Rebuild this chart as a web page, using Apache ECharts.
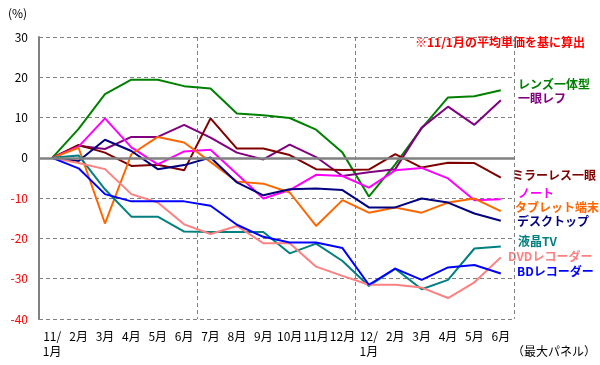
<!DOCTYPE html>
<html><head><meta charset="utf-8">
<script src="https://cdn.jsdelivr.net/npm/echarts@6/dist/echarts.min.js"></script>
<style>html,body{margin:0;padding:0;background:#fff}#c{width:600px;height:365px}</style>
</head><body><div id="c"></div>
<script>
var categories = ['11/\n1月','2月','3月','4月','5月','6月','7月','8月','9月','10月','11月','12月','12/\n1月','2月','3月','4月','5月','6月'];
var seriesNames = ['レンズ一体型','一眼レフ','ミラーレス一眼','ノート','タブレット端末','デスクトップ','液晶TV','DVDレコーダー','BDレコーダー'];
var lensIntegrated = [0, 7.2, 15.8, 19.4, 19.4, 17.8, 17.2, 11.0, 10.6, 9.9, 7.0, 1.3, -9.6, -1.6, 7.3, 15.0, 15.3, 16.8];
var dslr = [0, 3.0, 2.2, 5.2, 5.2, 8.2, 5.0, 1.3, -0.4, 3.3, 0.2, -4.5, -3.6, -2.8, 7.5, 12.7, 8.2, 14.3];
var mirrorless = [0, 3.2, 1.3, -2.0, -1.7, -3.1, 9.8, 2.3, 2.3, 0.7, -2.8, -3.0, -2.9, 0.9, -2.4, -1.2, -1.3, -4.9];
var notebook = [0, 2.8, 9.8, 2.6, -1.6, 1.6, 2.0, -4.0, -10.1, -8.0, -4.2, -4.5, -7.4, -3.1, -2.5, -5.1, -10.5, -10.3];
var tablet = [0, 2.5, -16.3, 0.9, 5.2, 3.8, -1.0, -5.9, -6.4, -8.6, -16.9, -10.5, -13.6, -12.3, -13.6, -11.1, -10.1, -13.2];
var desktop = [0, -0.8, 4.5, 1.7, -2.8, -1.8, 0.1, -6.1, -9.3, -7.8, -7.6, -8.0, -12.3, -12.3, -10.1, -11.1, -13.8, -15.6];
var lcdTv = [0, 0.6, -7.8, -14.6, -14.6, -18.3, -18.4, -18.4, -18.4, -23.7, -21.3, -25.6, -31.8, -27.5, -32.6, -30.3, -22.5, -22.0];
var dvdRecorder = [0, -1.3, -2.8, -9.0, -11.1, -16.5, -18.9, -16.9, -21.2, -21.2, -27.0, -29.3, -31.5, -31.5, -32.2, -34.8, -30.9, -24.7];
var bdRecorder = [0, -2.6, -9.0, -10.8, -10.8, -10.8, -11.9, -16.6, -19.6, -21.0, -21.0, -22.4, -31.5, -27.5, -30.3, -27.2, -26.6, -28.7];
var yMin = -40, yMax = 30, yStep = 10;
var unitLabel = '(%)';
var noteText = '※11/1月の平均単価を基に算出';
var footText = '（最大パネル）';

var allData = [lensIntegrated, dslr, mirrorless, notebook, tablet, desktop, lcdTv, dvdRecorder, bdRecorder];
var colors = ['#008000','#800080','#800000','#FF00FF','#FF6600','#000080','#008080','#FF8080','#0000FF'];
var labelPos = [[518,86],[518,100],[512,177],[518,195],[515,209],[517,223],[518,243],[508,258],[517,273]];
var FONT = '"Noto Sans CJK JP", sans-serif';

var series = allData.map(function(d, i){
  var s = {
    name: seriesNames[i], type: 'line', data: d, symbol: 'none', silent: true,
    lineStyle: {color: colors[i], width: 2}, itemStyle: {color: colors[i]}, z: 3
  };
  return s;
});
series.push({
  type: 'line', data: [], silent: true, z: 2,
  markLine: {symbol: 'none', silent: true, label: {show: false}, animation: false,
    lineStyle: {color: '#808080', width: 2.5, type: 'solid'}, data: [{yAxis: 0}]}
});

var graphics = seriesNames.map(function(n, i){
  return {type: 'text', left: labelPos[i][0], top: labelPos[i][1] - 8, silent: true,
    style: {text: n, fill: colors[i], font: 'bold 12px ' + FONT}};
});
graphics.push({type: 'text', left: 8, top: 7, style: {text: unitLabel, fill: '#000', font: '12px ' + FONT}});
graphics.push({type: 'text', left: 415, top: 36, style: {text: noteText, fill: '#FF0000', font: 'bold 12px ' + FONT}});
graphics.push({type: 'text', left: 512, top: 345, style: {text: footText, fill: '#000', font: '12px ' + FONT}});

var chart = echarts.init(document.getElementById('c'), null, {renderer: 'canvas'});
chart.setOption({
  animation: false,
  backgroundColor: '#fff',
  grid: {left: 39, right: 86, top: 37, bottom: 46, containLabel: false},
  xAxis: {
    type: 'category', data: categories, boundaryGap: true,
    axisLine: {show: false}, axisTick: {show: false},
    axisLabel: {color: '#000', fontFamily: FONT, fontSize: 12, lineHeight: 15, margin: 10, interval: 0},
    splitLine: {show: true, interval: function(idx){ return idx === 6 || idx === 12; },
      lineStyle: {color: '#808080', type: [4, 3], width: 1}}
  },
  yAxis: {
    type: 'value', min: yMin, max: yMax, interval: yStep,
    axisLine: {show: true, lineStyle: {color: '#808080', width: 2}},
    axisTick: {show: false},
    axisLabel: {fontFamily: FONT, fontSize: 12, margin: 11,
      color: function(v){ return Number(v) < 0 ? '#FF0000' : '#000000'; }},
    splitLine: {show: true, lineStyle: {color: '#808080', type: [4, 3], width: 1}}
  },
  series: series,
  graphic: graphics
});
</script></body></html>
